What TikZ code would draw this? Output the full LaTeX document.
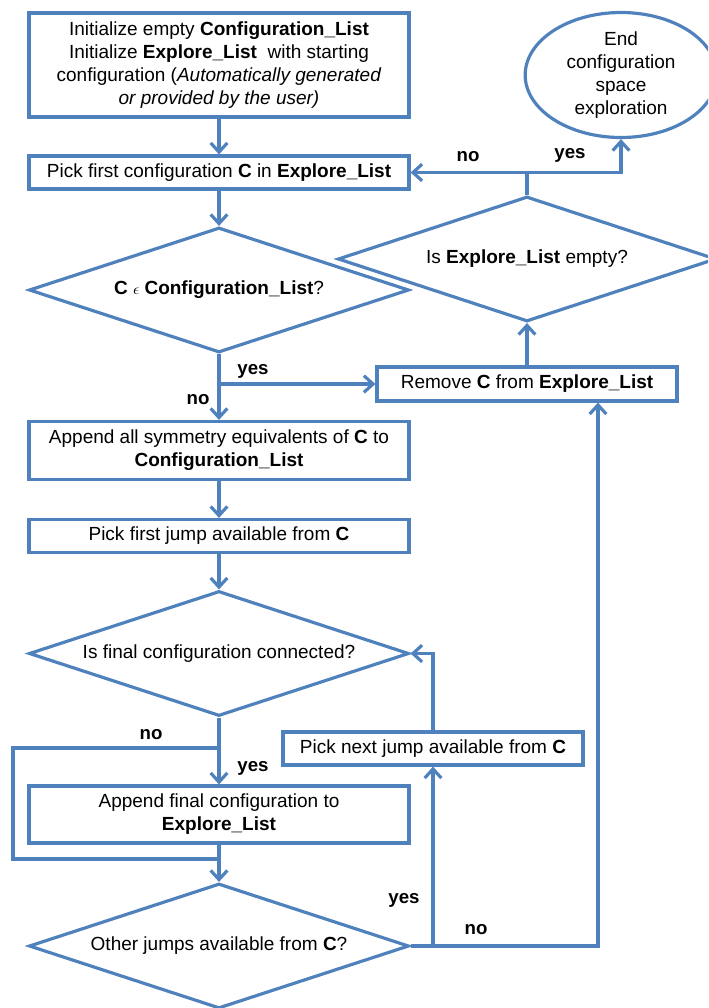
\documentclass[tikz,border=0pt]{standalone}
\usepackage{fontspec}
\setmainfont{Liberation Sans}
\usetikzlibrary{arrows.meta,positioning,shapes.geometric,calc}
\definecolor{flowblue}{RGB}{79,129,189}
\newcommand{\lst}[1]{\textbf{#1}}
\tikzset{
  stepbox/.style={rectangle,draw=flowblue,line width=1.9pt,fill=white,
                  minimum width=228pt,inner sep=2pt,align=center},
  test/.style={diamond,draw=flowblue,line width=1.9pt,fill=white,aspect=3,
               minimum width=228pt,minimum height=75pt,inner sep=0pt},
  term/.style={ellipse,draw=flowblue,line width=1.9pt,fill=white,
               minimum width=115pt,minimum height=75pt,inner sep=0pt,align=center},
  flow/.style={draw=flowblue,line width=1.9pt,-{Straight Barb[length=5.5pt,width=10pt]}},
  wire/.style={draw=flowblue,line width=1.9pt},
  tag/.style={font=\fontsize{11.2}{13}\selectfont\bfseries,inner sep=1pt},
}

\begin{document}
\begin{tikzpicture}[x=0.6pt,y=-0.6pt,font=\fontsize{11.4}{13.8}\selectfont]
  \useasboundingbox (0,0) rectangle (708,1008);
  \clip (0,0) rectangle (708,1008);
  % main column
  \node[stepbox,minimum height=62.4pt] (init) at (219,65)
    {Initialize empty \lst{Configuration\_List}\\
     Initialize \lst{Explore\_List}\ \ with starting\\
     configuration (\textit{Automatically generated}\\
     \textit{or provided by the user)}};
  \node[stepbox,minimum height=19.8pt] (pickC) at (219,172.5)
    {Pick first configuration \lst{C} in \lst{Explore\_List}};
  \node[test] (inlist) at (219,290)
    {\lst{C} {\fontsize{9}{10}\selectfont$\epsilon$} \lst{Configuration\_List}?};
  \node[stepbox,minimum height=34.8pt] (sym) at (219,450.5)
    {Append all symmetry equivalents of \lst{C} to\\ \lst{Configuration\_List}};
  \node[stepbox,minimum height=19.8pt] (firstjump) at (219,536)
    {Pick first jump available from \lst{C}};
  \node[test] (connected) at (219,653.5) {Is final configuration connected?};
  \node[stepbox,minimum height=34.2pt] (appendfinal) at (219,814.5)
    {Append final configuration to\\ \lst{Explore\_List}};
  \node[test] (others) at (219,946) {Other jumps available from \lst{C}?};
  % right column
  \node[stepbox,minimum width=180pt,minimum height=19.8pt] (nextjump) at (433,748.5)
    {Pick next jump available from \lst{C}};
  \node[stepbox,minimum width=180pt,minimum height=20.4pt] (remove) at (527,384)
    {Remove \lst{C} from \lst{Explore\_List}};
  \node[test,minimum width=227pt] (empty) at (527,259)
    {Is \lst{Explore\_List} empty?};
  \node[term] (done) at (621,75) {End\\ configuration\\ space\\ exploration};

  \coordinate (split) at (empty.north |- pickC.east);
  \coordinate (yesfork) at (inlist.south |- remove.west);
  \coordinate (nofork) at (219,748);
  \coordinate (merge) at (219,859);

  \draw[flow] (init) -- (pickC);
  \draw[flow] (pickC) -- (inlist);
  \draw[flow] (inlist) -- (sym);
  \draw[flow] (yesfork) -- (remove.west);
  \draw[flow] (remove) -- (empty);
  \draw[wire] (empty.north) -- (split);
  \draw[flow] (split) -- (pickC.east);
  \draw[flow] (split) -| (done.south);
  \draw[flow] (sym) -- (firstjump);
  \draw[flow] (firstjump) -- (connected);
  \draw[flow] (connected) -- (appendfinal);
  \draw[wire] (nofork) -- ++(-206,0) |- (merge);
  \draw[flow] (appendfinal) -- (others);
  \draw[flow] (others.east) -| (nextjump.south);
  \draw[flow] (others.east) -| ([xshift=42.6pt]remove.south);
  \draw[flow] (nextjump.north) |- (connected.east);

  \node[tag] (noA) at (468,157) {no};
  \node[tag] (yesA) at (570,155) {yes};
  \node[tag] (yesB) at (253,371) {yes};
  \node[tag] (noB) at (198,400) {no};
  \node[tag] (noC) at (151,735) {no};
  \node[tag] (yesC) at (253,768) {yes};
  \node[tag] (yesD) at (404,900) {yes};
  \node[tag] (noD) at (476,930) {no};
\end{tikzpicture}
\end{document}
